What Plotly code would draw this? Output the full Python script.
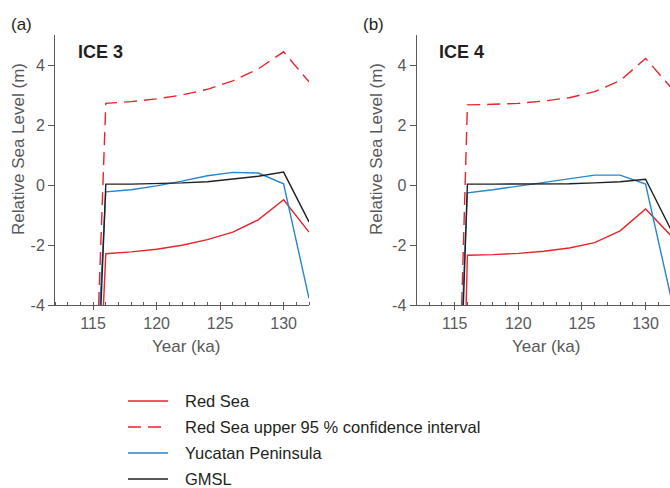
import plotly.graph_objects as go

# ---------------- data ----------------
years = [116, 118, 120, 122, 124, 126, 128, 130, 132]
drop_value = -6  # values fall below the axis before 116 ka

# Panel (a) ICE 3
red_a = [-2.29, -2.23, -2.14, -2.01, -1.82, -1.57, -1.16, -0.49, -1.57]
red_upper_a = [2.72, 2.78, 2.87, 3.00, 3.19, 3.47, 3.87, 4.44, 3.44]
yucatan_a = [-0.23, -0.16, -0.03, 0.13, 0.31, 0.42, 0.40, 0.04, -3.78]
gmsl_a = [0.03, 0.03, 0.04, 0.07, 0.11, 0.19, 0.29, 0.43, -1.23]
drop_year_a = {"red": 115.6, "red_upper": 115.27, "yucatan": 115.3, "gmsl": 115.43}

# Panel (b) ICE 4
red_b = [-2.34, -2.32, -2.28, -2.21, -2.10, -1.92, -1.53, -0.80, -1.69]
red_upper_b = [2.67, 2.69, 2.72, 2.80, 2.91, 3.11, 3.48, 4.22, 3.25]
yucatan_b = [-0.26, -0.16, -0.04, 0.08, 0.22, 0.33, 0.33, 0.03, -3.75]
gmsl_b = [0.03, 0.03, 0.03, 0.03, 0.04, 0.07, 0.11, 0.19, -1.49]
drop_year_b = {"red": 115.78, "red_upper": 115.42, "yucatan": 115.43, "gmsl": 115.52}

x_ticks = [115, 120, 125, 130]
y_ticks = [-4, -2, 0, 2, 4]
y_tick_labels = ["-4", "-2", "0", "2", "4"]
series_names = {
    "red": "Red Sea",
    "red_upper": "Red Sea upper 95 % confidence interval",
    "yucatan": "Yucatan Peninsula",
    "gmsl": "GMSL",
}

# ---------------- style ----------------
RED = "#e8232b"
BLUE = "#2586cf"
BLACK = "#231f20"
GREY = "#58595b"
FONT = "Liberation Sans, Arial, sans-serif"

styles = {
    "red": dict(color=RED, width=1.4),
    "red_upper": dict(color=RED, width=1.4, dash="13px,7px"),
    "yucatan": dict(color=BLUE, width=1.4),
    "gmsl": dict(color=BLACK, width=1.4),
}
order = ["red", "red_upper", "yucatan", "gmsl"]

fig = go.Figure()

panels = [
    ("x", "y", {"red": red_a, "red_upper": red_upper_a, "yucatan": yucatan_a, "gmsl": gmsl_a}, drop_year_a),
    ("x2", "y2", {"red": red_b, "red_upper": red_upper_b, "yucatan": yucatan_b, "gmsl": gmsl_b}, drop_year_b),
]
for xa, ya, vals, drops in panels:
    for key in order:
        fig.add_trace(go.Scatter(
            x=[drops[key]] + years,
            y=[drop_value] + vals[key],
            mode="lines",
            line=styles[key],
            name=series_names[key],
            showlegend=False,
            xaxis=xa, yaxis=ya,
            hoverinfo="skip",
        ))

W, H = 670, 488


def px(x):
    return x / W


def py(y):
    return 1 - y / H


ax_common = dict(
    showgrid=False, zeroline=False, showline=True,
    linecolor=GREY, linewidth=1, tickcolor=GREY, tickwidth=1,
    tickfont=dict(family=FONT, size=16, color=GREY),
)
xdom_a = [px(55), px(309)]
xdom_b = [px(416.5), 1.0]
ydom = [py(305), py(35)]

xcommon = dict(ax_common, tickvals=x_ticks, ticks="outside", ticklen=4,
               minor=dict(dtick=1, tick0=112, ticks="inside", ticklen=3, tickcolor=GREY, tickwidth=1))
ycommon = dict(ax_common, tickvals=y_ticks, ticktext=y_tick_labels, ticks="outside", ticklen=6, range=[-4, 5])

fig.update_layout(
    width=W, height=H,
    margin=dict(l=0, r=0, t=0, b=0, autoexpand=False),
    paper_bgcolor="white", plot_bgcolor="white",
    font=dict(family=FONT, color=BLACK),
    showlegend=False,
    xaxis=dict(xcommon, domain=xdom_a, range=[112, 132], anchor="y"),
    yaxis=dict(ycommon, domain=ydom, anchor="x"),
    xaxis2=dict(xcommon, domain=xdom_b, range=[112, 131.92], anchor="y2"),
    yaxis2=dict(ycommon, domain=ydom, anchor="x2"),
)


def ann(text, x, y, size, color, bold=False, angle=0, xanchor="center"):
    fig.add_annotation(
        text=f"<b>{text}</b>" if bold else text,
        x=px(x), y=py(y), xref="paper", yref="paper",
        xanchor=xanchor, yanchor="middle", showarrow=False, textangle=angle,
        font=dict(family=FONT, size=size, color=color),
    )


# panel labels / titles
ann("(a)", 9, 24, 17, BLACK, xanchor="left")
ann("(b)", 361, 24, 17, BLACK, xanchor="left")
ann("ICE 3", 76, 52, 18, BLACK, bold=True, xanchor="left")
ann("ICE 4", 437, 52, 18, BLACK, bold=True, xanchor="left")
ann("Relative Sea Level (m)", 18, 149, 17, GREY, angle=-90)
ann("Relative Sea Level (m)", 376, 149, 17, GREY, angle=-90)
ann("Year (ka)", 186, 346, 17, GREY)
ann("Year (ka)", 546, 346, 17, GREY)

# legend (drawn below the panels)
legend_top, legend_step = 401, 26
for i, key in enumerate(order):
    yy = py(legend_top + i * legend_step)
    st = styles[key]
    fig.add_shape(type="line", xref="paper", yref="paper",
                  x0=px(128), x1=px(168), y0=yy, y1=yy,
                  line=dict(color=st["color"], width=st["width"], dash=st.get("dash", "solid")))
    fig.add_annotation(text=series_names[key], x=px(183), y=yy, xref="paper", yref="paper",
                       xanchor="left", yanchor="middle", showarrow=False,
                       font=dict(family=FONT, size=16.5, color=BLACK))

# remove the browser's default page margin so the 670x488 figure fills the window
fig.write_html(
    "out.html",
    config={"displayModeBar": False},
    post_script="document.body.style.margin='0';document.body.style.overflow='hidden';",
)
